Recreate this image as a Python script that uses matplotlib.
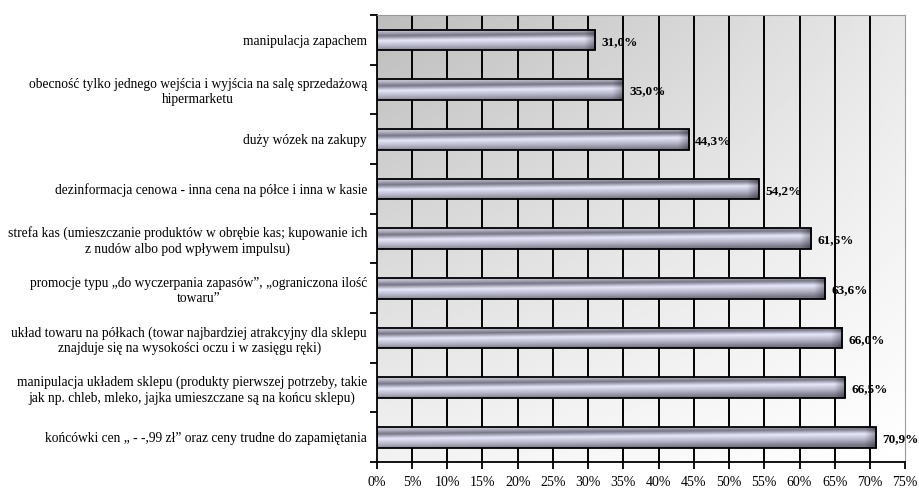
import matplotlib

matplotlib.use("Agg")
import matplotlib.pyplot as plt
import numpy as np
from matplotlib.patches import Rectangle

plt.rcParams["font.family"] = ["Liberation Serif", "DejaVu Serif"]

categories = [
    "manipulacja zapachem",
    "obecność tylko jednego wejścia i wyjścia na salę sprzedażową\nhipermarketu",
    "duży wózek na zakupy",
    "dezinformacja cenowa - inna cena na półce i inna w kasie",
    "strefa kas (umieszczanie produktów w obrębie kas; kupowanie ich\nz nudów albo pod wpływem impulsu)",
    "promocje typu „do wyczerpania zapasów”, „ograniczona ilość\ntowaru”",
    "układ towaru na półkach (towar najbardziej atrakcyjny dla sklepu\nznajduje się na wysokości oczu i w zasięgu ręki)",
    "manipulacja układem sklepu (produkty pierwszej potrzeby, takie\njak np. chleb, mleko, jajka umieszczane są na końcu sklepu)",
    "końcówki cen „ - -,99 zł” oraz ceny trudne do zapamiętania",
]
values = [31.0, 35.0, 44.3, 54.2, 61.6, 63.6, 66.0, 66.5, 70.9]
x_ticks = list(range(0, 80, 5))

XMAX = 75
BAR_H = 0.42


def _bar_image(length: float) -> np.ndarray:
    """Metallic cylinder look: vertical bands that drift a bit along the bar."""
    nrow, ncol = 40, 300
    t = np.linspace(0, 1, nrow)[:, None]
    xs = np.linspace(0, length, ncol)[None, :]
    shift = 0.25 * (xs / XMAX) - 0.1
    tt = np.clip(t + shift, 0, 1)
    stops = [0.0, 0.22, 0.45, 0.72, 1.0]
    lum = [0.78, 0.48, 0.95, 0.74, 0.48]
    v = np.interp(tt, stops, lum)
    # darker end cap
    end = np.clip((xs - (length - 1.6)) / 1.6, 0, 1)
    v = v * (1 - 0.35 * end)
    img = np.stack([v * 0.96, v * 0.96, v * 1.0 + 0.04], axis=-1)
    return np.clip(img, 0, 1)


fig = plt.figure(figsize=(9.19, 4.88), dpi=100)
ax = fig.add_axes([0.410, 0.053, 0.575, 0.916])

# diagonal grey-to-white background
gx = np.linspace(0, 1, 200)[None, :]
gy = np.linspace(0, 1, 100)[:, None]
bg = 0.74 + 0.17 * gx + 0.21 * gy - 0.12 * gx * gy
ax.imshow(bg, extent=[0, XMAX, len(values) - 0.5, -0.5], cmap="gray",
          vmin=0, vmax=1, aspect="auto", zorder=0, interpolation="bilinear")

for x in x_ticks[1:-1]:
    ax.axvline(x, color="black", linewidth=1.4, zorder=1)

for i, v in enumerate(values):
    y0 = i - BAR_H / 2
    ax.imshow(_bar_image(v), extent=[0, v, i + BAR_H / 2, y0],
              aspect="auto", zorder=2, interpolation="bilinear")
    ax.add_patch(Rectangle((0, y0), v, BAR_H, fill=False, edgecolor="black",
                           linewidth=1.3, zorder=3))
    ax.text(v + 0.9, i + 0.04, f"{v:.1f}%".replace(".", ","), va="center",
            ha="left", fontsize=9.5, fontweight="bold", zorder=4)

ax.set_xlim(0, XMAX)
ax.set_ylim(len(values) - 0.5, -0.5)
ax.set_xticks(x_ticks)
ax.set_xticklabels([f"{x}%" for x in x_ticks], fontsize=10)
ax.set_yticks(range(len(values)))
ax.set_yticklabels(categories, fontsize=9.75, multialignment="center",
                   linespacing=1.2)
ax.set_yticks(np.arange(-0.5, len(values), 1), minor=True)
ax.tick_params(axis="y", which="major", length=0, pad=7)
ax.tick_params(axis="y", which="minor", length=5, width=1.3, direction="out")
ax.tick_params(axis="x", length=5, width=1.3, direction="out", pad=5)

ax.spines["left"].set_linewidth(1.3)
ax.spines["bottom"].set_linewidth(1.3)
ax.spines["top"].set_color("#999999")
ax.spines["right"].set_color("#999999")

fig.savefig("out.png", dpi=100)
